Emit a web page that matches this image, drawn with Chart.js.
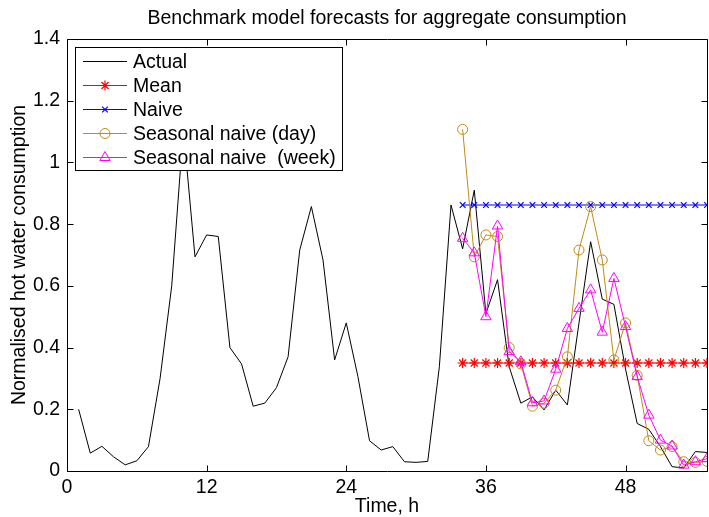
<!DOCTYPE html>
<html><head><meta charset="utf-8">
<style>
html,body{margin:0;padding:0;overflow:hidden;background:#fff;}
#wrap{width:714px;height:517px;position:relative;}
</style>
<script src="https://cdn.jsdelivr.net/npm/chart.js"></script>
</head><body><div id="wrap"><canvas id="c" width="714" height="517"></canvas></div>
<script>
// ---- data ----
const titleText = 'Benchmark model forecasts for aggregate consumption';
const xTitle = 'Time, h';
const yTitle = 'Normalised hot water consumption';
const xTicks = [0, 12, 24, 36, 48];
const yTicks = [0, 0.2, 0.4, 0.6, 0.8, 1.0, 1.2, 1.4];

const actualHours = [1,2,3,4,5,6,7,8,9,10,11,12,13,14,15,16,17,18,19,20,21,22,23,24,25,26,27,28,29,30,31,32,33,34,35,36,37,38,39,40,41,42,43,44,45,46,47,48,49,50,51,52,53,54,55];
const actualValues = [0.20,0.058,0.08,0.046,0.02,0.033,0.079,0.30,0.60,1.107,0.694,0.765,0.76,0.40,0.347,0.21,0.22,0.27,0.37,0.716,0.857,0.684,0.36,0.48,0.306,0.098,0.068,0.079,0.03,0.028,0.031,0.338,0.862,0.72,0.91,0.51,0.62,0.338,0.22,0.24,0.198,0.262,0.214,0.48,0.743,0.557,0.54,0.33,0.154,0.135,0.079,0.014,0.01,0.063,0.06];

const forecastHours = [34,35,36,37,38,39,40,41,42,43,44,45,46,47,48,49,50,51,52,53,54,55];
const meanValues = [0.35,0.35,0.35,0.35,0.35,0.35,0.35,0.35,0.35,0.35,0.35,0.35,0.35,0.35,0.35,0.35,0.35,0.35,0.35,0.35,0.35,0.35];
const naiveValues = [0.862,0.862,0.862,0.862,0.862,0.862,0.862,0.862,0.862,0.862,0.862,0.862,0.862,0.862,0.862,0.862,0.862,0.862,0.862,0.862,0.862,0.862];
const dayValues = [1.107,0.694,0.765,0.76,0.40,0.347,0.21,0.22,0.262,0.37,0.716,0.857,0.684,0.36,0.48,0.31,0.098,0.068,0.079,0.03,0.028,0.031];
const weekValues = [0.754,0.707,0.50,0.794,0.387,0.354,0.221,0.227,0.33,0.462,0.527,0.587,0.45,0.624,0.468,0.306,0.181,0.10,0.081,0.019,0.03,0.04];

const seriesLabels = ['Actual','Mean','Naive','Seasonal naive (day)','Seasonal naive  (week)'];

function pts(xs, ys){ return xs.map((x,i)=>({x:x, y:ys[i]})); }

const FONT = "'Liberation Sans', Arial, Helvetica, sans-serif";
const FS = 19.5;
const GOLD = 'rgb(190,140,22)';

const datasets = [
  {label:seriesLabels[0], data:pts(actualHours, actualValues), borderColor:'#000', borderWidth:1, pointRadius:0, order:5},
  {label:seriesLabels[1], data:pts(forecastHours, meanValues), borderColor:'#ff0000', borderWidth:1.2, pointStyle:'star', pointRadius:5, pointBorderWidth:1.2, pointBorderColor:'#ff0000', pointBackgroundColor:'rgba(0,0,0,0)', order:4},
  {label:seriesLabels[2], data:pts(forecastHours, naiveValues), borderColor:'#0000ff', borderWidth:1.2, pointStyle:'crossRot', pointRadius:4, pointBorderWidth:1.2, pointBorderColor:'#0000ff', pointBackgroundColor:'rgba(0,0,0,0)', order:3},
  {label:seriesLabels[3], data:pts(forecastHours, dayValues), borderColor:GOLD, borderWidth:1, pointStyle:'circle', pointRadius:5, pointBorderWidth:1, pointBorderColor:GOLD, pointBackgroundColor:'rgba(0,0,0,0)', order:2},
  {label:seriesLabels[4], data:pts(forecastHours, weekValues), borderColor:'#ff00ff', borderWidth:1, pointStyle:'triangle', pointRadius:6, pointBorderWidth:1, pointBorderColor:'#ff00ff', pointBackgroundColor:'rgba(0,0,0,0)', order:1}
];

function drawMarker(ctx, style, r, x, y, color, lw){
  ctx.save();
  ctx.strokeStyle = color; ctx.lineWidth = lw;
  ctx.beginPath();
  if (style==='circle'){ ctx.arc(x,y,r,0,Math.PI*2); }
  else if (style==='triangle'){
    ctx.moveTo(x, y - r);
    ctx.lineTo(x + Math.sin(2*Math.PI/3)*r, y - Math.cos(2*Math.PI/3)*r);
    ctx.lineTo(x + Math.sin(4*Math.PI/3)*r, y - Math.cos(4*Math.PI/3)*r);
    ctx.closePath();
  }
  else if (style==='star'){
    for (let k=0;k<4;k++){ const a=k*Math.PI/4; ctx.moveTo(x-Math.cos(a)*r,y-Math.sin(a)*r); ctx.lineTo(x+Math.cos(a)*r,y+Math.sin(a)*r); }
  }
  else if (style==='crossRot'){
    const d=r*Math.SQRT1_2;
    ctx.moveTo(x-d,y-d); ctx.lineTo(x+d,y+d); ctx.moveTo(x+d,y-d); ctx.lineTo(x-d,y+d);
  }
  ctx.stroke();
  ctx.restore();
}

const framePlugin = {
  id:'frame',
  afterDatasetsDraw(chart){
    const ctx = chart.ctx, a = chart.chartArea;
    const xs = chart.scales.x, ys = chart.scales.y;
    ctx.save();
    ctx.strokeStyle = '#000'; ctx.lineWidth = 1;
    const L = Math.round(a.left)+0.5, R = Math.round(a.right)+0.5, T = Math.round(a.top)+0.5, B = Math.round(a.bottom)+0.5;
    ctx.beginPath();
    ctx.rect(L, T, R-L, B-T);
    ctx.stroke();
    // inward ticks
    const tl = 6;
    ctx.beginPath();
    xTicks.forEach(v=>{ const px = Math.round(xs.getPixelForValue(v))+0.5; ctx.moveTo(px,B); ctx.lineTo(px,B-tl); ctx.moveTo(px,T); ctx.lineTo(px,T+tl); });
    yTicks.forEach(v=>{ const py = Math.round(ys.getPixelForValue(v))+0.5; ctx.moveTo(L,py); ctx.lineTo(L+tl,py); ctx.moveTo(R,py); ctx.lineTo(R-tl,py); });
    ctx.stroke();
    ctx.restore();

    // legend
    ctx.save();
    const bx=75.5, by=47.5, bw=267, bh=123;
    ctx.fillStyle='#fff'; ctx.fillRect(bx,by,bw,bh);
    ctx.strokeStyle='#000'; ctx.lineWidth=1; ctx.strokeRect(bx,by,bw,bh);
    ctx.font = FS+'px '+FONT; ctx.textBaseline='middle'; ctx.textAlign='left'; ctx.fillStyle='#000';
    const rowY = [61.5, 85.5, 109.5, 133.5, 157.5];
    chart.data.datasets.forEach((ds,i)=>{
      const y = rowY[i];
      ctx.strokeStyle = ds.borderColor; ctx.lineWidth = ds.borderWidth;
      ctx.beginPath(); ctx.moveTo(83,y); ctx.lineTo(127,y); ctx.stroke();
      if (ds.pointRadius>0) drawMarker(ctx, ds.pointStyle, ds.pointRadius, 105, y, ds.pointBorderColor, ds.pointBorderWidth);
      ctx.fillStyle='#000';
      ctx.fillText(ds.label, 133, y+1);
    });
    ctx.restore();

    // titles
    ctx.save();
    ctx.fillStyle='#000'; ctx.font = FS+'px '+FONT; ctx.textAlign='center'; ctx.textBaseline='middle';
    const cx = (a.left+a.right)/2;
    ctx.fillText(titleText, cx, 19);
    ctx.fillText(xTitle, cx, 507);
    ctx.translate(20, (a.top+a.bottom)/2);
    ctx.rotate(-Math.PI/2);
    ctx.fillText(yTitle, 0, 0);
    ctx.restore();
  }
};

new Chart(document.getElementById('c'), {
  type:'line',
  data:{datasets:datasets},
  options:{
    responsive:false, animation:false, devicePixelRatio:1,
    layout:{padding:{left:0,right:2,top:39,bottom:0}},
    plugins:{legend:{display:false}, tooltip:{enabled:false}, title:{display:false}},
    elements:{line:{tension:0}},
    scales:{
      x:{type:'linear', min:0, max:55,
        grid:{display:false, drawTicks:false}, border:{display:false},
        afterFit(s){ s.height = 46; },
        afterBuildTicks(s){ s.ticks = xTicks.map(v=>({value:v})); },
        ticks:{padding:5, color:'#000', font:{family:FONT, size:FS}, maxRotation:0, autoSkip:false, callback:v=>String(v)}
      },
      y:{type:'linear', min:0, max:1.4,
        grid:{display:false, drawTicks:false}, border:{display:false},
        afterFit(s){ s.width = 67; },
        afterBuildTicks(s){ s.ticks = yTicks.map(v=>({value:v})); },
        ticks:{padding:7, color:'#000', font:{family:FONT, size:FS}, autoSkip:false, callback:v=>String(Number(v.toFixed(1)))}
      }
    }
  },
  plugins:[framePlugin]
});
</script></body></html>
